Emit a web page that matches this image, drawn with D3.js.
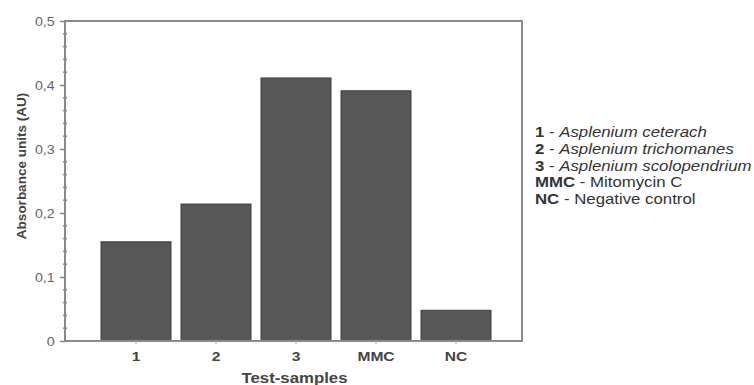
<!DOCTYPE html>
<html>
<head>
<meta charset="utf-8">
<script src="https://cdn.jsdelivr.net/npm/d3@7"></script>
<style>
  body { margin: 0; background: #fff; overflow: hidden; }
  svg { font-family: "Liberation Sans", Arial, sans-serif; }
</style>
</head>
<body>
<div id="chart"></div>
<script>
// data
const samples = ['1', '2', '3', 'MMC', 'NC'];
const absorbance = [0.155, 0.214, 0.411, 0.391, 0.048];
const yTicks = [0, 0.1, 0.2, 0.3, 0.4, 0.5];
const legendKeys = ['1', '2', '3', 'MMC', 'NC'];
const legendNames = ['Asplenium ceterach', 'Asplenium trichomanes', 'Asplenium scolopendrium', 'Mitomycin C', 'Negative control'];
const legendItalic = [true, true, true, false, false];

const width = 754;
const height = 385;
const box = { left: 65, right: 522, top: 21, bottom: 341 };
const stretch = 1.2; // the original's lettering is a bit wide

const svg = d3.select('#chart').append('svg')
  .attr('width', width)
  .attr('height', height);

const x = d3.scaleBand()
  .domain(samples)
  .range([96, 496])
  .paddingInner(0.125)
  .paddingOuter(0.0625);

const y = d3.scaleLinear()
  .domain([0, 0.5])
  .range([box.bottom, box.top]);

const fmt = (d) => (d === 0 ? '0' : d3.format('.1f')(d).replace('.', ','));

// bars
svg.append('g')
  .selectAll('rect')
  .data(samples)
  .enter()
  .append('rect')
  .attr('x', (d) => x(d))
  .attr('y', (d, i) => y(absorbance[i]))
  .attr('width', x.bandwidth())
  .attr('height', (d, i) => y(0) - y(absorbance[i]))
  .style('fill', '#575757')
  .style('stroke', '#3e3e3e')
  .style('stroke-width', 1);

// frame
svg.append('rect')
  .attr('x', box.left)
  .attr('y', box.top)
  .attr('width', box.right - box.left)
  .attr('height', box.bottom - box.top)
  .style('fill', 'none')
  .style('stroke', '#8a8a8a')
  .style('stroke-width', 2);

// y axis, major + minor ticks
const yAxis = d3.axisLeft(y).tickValues(yTicks).tickFormat(fmt).tickSize(5).tickPadding(4);
const gy = svg.append('g').attr('transform', `translate(${box.left},0)`).call(yAxis);
gy.select('.domain').remove();
gy.selectAll('line').style('stroke', '#8a8a8a').style('stroke-width', 1.5);
gy.selectAll('text').style('font-size', '12.5px').style('fill', '#666')
  .attr('transform', `scale(${stretch * 0.95},1)`);

const minor = d3.range(0, 0.5, 0.02).filter((v) => Math.round(v * 100) % 10 !== 0);
svg.append('g')
  .selectAll('line')
  .data(minor)
  .enter()
  .append('line')
  .attr('x1', box.left - 2)
  .attr('x2', box.left + 2)
  .attr('y1', (d) => y(d))
  .attr('y2', (d) => y(d))
  .style('stroke', '#8a8a8a')
  .style('stroke-width', 1.5);

// x axis
const xAxis = d3.axisBottom(x).tickSize(3).tickPadding(8);
const gx = svg.append('g').attr('transform', `translate(0,${box.bottom})`).call(xAxis);
gx.select('.domain').remove();
gx.selectAll('line').style('stroke', '#aaa');
gx.selectAll('text').style('font-size', '13px').style('font-weight', 'bold').style('fill', '#444')
  .attr('transform', `scale(${stretch},1)`);

// axis titles
svg.append('text')
  .attr('text-anchor', 'middle')
  .attr('transform', `translate(${(box.left + box.right) / 2 + 1},383) scale(${stretch},1)`)
  .style('font-size', '14px')
  .style('font-weight', 'bold')
  .style('fill', '#444')
  .text('Test-samples');

svg.append('text')
  .attr('transform', 'rotate(-90)')
  .attr('text-anchor', 'middle')
  .attr('x', -166)
  .attr('y', 26)
  .style('font-size', '13.5px')
  .style('font-weight', 'bold')
  .style('fill', '#444')
  .text('Absorbance units (AU)');

// legend text
const legend = svg.append('g').attr('transform', `translate(535,137) scale(${stretch},1)`);
legendKeys.forEach((k, i) => {
  const t = legend.append('text')
    .attr('x', 0)
    .attr('y', i * 16.8)
    .style('font-size', '14px')
    .style('fill', '#333');
  t.append('tspan').style('font-weight', 'bold').text(k);
  t.append('tspan').text(' - ');
  t.append('tspan').style('font-style', legendItalic[i] ? 'italic' : 'normal').text(legendNames[i]);
});
</script>
</body>
</html>
